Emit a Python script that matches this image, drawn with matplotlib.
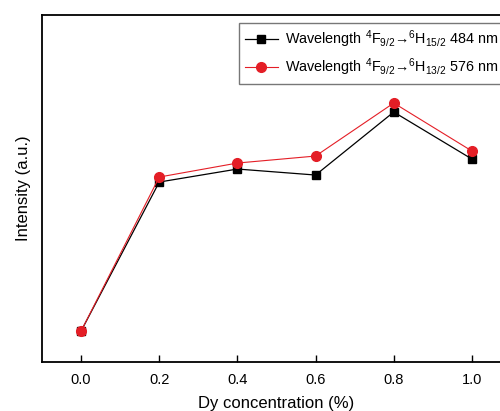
import matplotlib
matplotlib.use("Agg")
import matplotlib.pyplot as plt

plt.rcParams['font.family'] = ['Liberation Sans', 'DejaVu Sans']
plt.rcParams['mathtext.fontset'] = 'custom'
plt.rcParams['mathtext.rm'] = 'Liberation Sans'
plt.rcParams['mathtext.it'] = 'Liberation Sans'

conc = [0.0, 0.2, 0.4, 0.6, 0.8, 1.0]
int_484 = [31, 180, 193, 187, 250, 203]
int_576 = [31, 185, 199, 206, 259, 211]
xticks = [0.0, 0.2, 0.4, 0.6, 0.8, 1.0]
label_484 = 'Wavelength $^4$F$_{9/2}$\u2192$^6$H$_{15/2}$ 484 nm'
label_576 = 'Wavelength $^4$F$_{9/2}$\u2192$^6$H$_{13/2}$ 576 nm'

fig = plt.figure(figsize=(5, 4.11), dpi=100)
ax = fig.add_axes([0.084, 0.119, 1.022 - 0.084, 0.9635 - 0.119])
ax.plot(conc, int_484, color='black', lw=0.9, marker='s', ms=6, label=label_484)
ax.plot(conc, int_576, color='#e41e26', lw=0.8, marker='o', ms=7, label=label_576)
ax.set_xlim(-0.1, 1.1)
ax.set_ylim(0, 347)
ax.set_xticks(xticks)
ax.set_xticklabels([f'{v:.1f}' for v in xticks], fontsize=10.5)
ax.set_yticks([])
ax.tick_params(axis='x', direction='in', length=5, width=1, pad=8)
for s in ax.spines.values():
    s.set_linewidth(1.3)
ax.set_xlabel('Dy concentration (%)', fontsize=12, labelpad=6)
ax.set_ylabel('Intensity (a.u.)', fontsize=12, labelpad=8)
leg = ax.legend(loc='upper left', bbox_to_anchor=(239/500, 1 - 23/411),
                bbox_transform=fig.transFigure, fontsize=10.4, frameon=True,
                fancybox=False, edgecolor='#555555', handlelength=2.3,
                handletextpad=0.5, borderpad=0.4,
                borderaxespad=0, labelspacing=0.45)
leg.get_frame().set_linewidth(1.0)
fig.savefig('out.png', dpi=100)
